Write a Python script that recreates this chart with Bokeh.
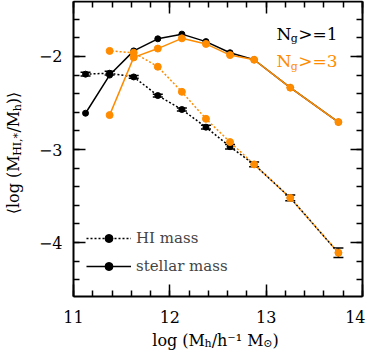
import math
from bokeh.plotting import figure
from bokeh.models import (Range1d, SingleIntervalTicker, LinearAxis, Label, Whisker,
                          ColumnDataSource, Legend, LegendItem, TeeHead, CustomJSTickFormatter)
from bokeh.embed import file_html
from bokeh.resources import INLINE

# ---------------- data ----------------
halo_mass_all = [11.125, 11.375, 11.625, 11.875, 12.125, 12.375, 12.625, 12.875, 13.25, 13.75]
hi_frac_all = [-2.19, -2.18, -2.22, -2.42, -2.57, -2.76, -2.97, -3.16, -3.52, -4.11]
hi_frac_all_err = [0.02, 0.02, 0.015, 0.015, 0.015, 0.02, 0.025, 0.025, 0.03, 0.05]
star_frac_all = [-2.61, -2.20, -1.94, -1.81, -1.76, -1.84, -1.96, -2.035, -2.335, -2.705]

halo_mass_ng3 = [11.375, 11.625, 11.875, 12.125, 12.375, 12.625, 12.875, 13.25, 13.75]
hi_frac_ng3 = [-1.94, -1.96, -2.11, -2.38, -2.67, -2.92, -3.16, -3.52, -4.11]
star_frac_ng3 = [-2.63, -2.01, -1.915, -1.805, -1.865, -1.985, -2.035, -2.335, -2.705]

y_tick_values = [-4, -3, -2]
y_tick_labels = ["\u22124", "\u22123", "\u22122"]
legend_labels = ["HI mass", "stellar mass"]
group_labels = [">=1", ">=3"]

ORANGE = "#ff8c00"
FONT = "DejaVu Serif"

# axis box limits (data)
X0, X1 = 11.0, 14.0
Y0, Y1 = -4.580, -1.409

# canvas geometry (px); the frame fills the whole canvas, axes are pinned at the box
W, H = 365, 350
BL, BR, BT, BB = 73.0, 362.0, 1.0, 296.0
SX = (BR - BL) / (X1 - X0)
SY = (BB - BT) / (Y1 - Y0)


def dx(cx):
    return X0 + (cx - BL) / SX


def dy(cy):
    return Y0 + (BB - cy) / SY


p = figure(width=W, height=H,
           x_range=Range1d(dx(0), dx(W)), y_range=Range1d(dy(H), dy(0)),
           output_backend="svg", toolbar_location=None,
           x_axis_location=None, y_axis_location=None,
           min_border=0, min_border_left=0, min_border_right=0,
           min_border_top=0, min_border_bottom=0)
p.grid.visible = False
p.outline_line_color = None
p.background_fill_color = "white"
p.border_fill_color = "white"

ax_bottom = LinearAxis(fixed_location=Y0, bounds=(X0, X1))
ax_top = LinearAxis(fixed_location=Y1, bounds=(X0, X1))
ax_left = LinearAxis(fixed_location=X0, bounds=(Y0, Y1))
ax_right = LinearAxis(fixed_location=X1, bounds=(Y0, Y1))
p.add_layout(ax_bottom, "below")
p.add_layout(ax_top, "above")
p.add_layout(ax_left, "left")
p.add_layout(ax_right, "right")

for ax in (ax_bottom, ax_top, ax_left, ax_right):
    ax.ticker = SingleIntervalTicker(interval=1, num_minor_ticks=5)
    ax.axis_line_width = 2
    ax.major_tick_in = 12
    ax.major_tick_out = 0
    ax.minor_tick_in = 6
    ax.minor_tick_out = 0
    ax.major_tick_line_width = 1.5
    ax.minor_tick_line_width = 1.5
    ax.major_label_text_font = FONT
    ax.major_label_text_font_size = "16px"
    ax.major_label_text_color = "black"

for ax in (ax_top, ax_right):
    ax.formatter = CustomJSTickFormatter(code="return ''")
    ax.major_label_standoff = 0

ax_bottom.major_label_standoff = 14
ax_left.major_label_standoff = 11
ax_left.major_label_overrides = {v: s for v, s in zip(y_tick_values, y_tick_labels)}

# ---------------- glyphs ----------------
err_src = ColumnDataSource(dict(
    x=halo_mass_all,
    upper=[v + e for v, e in zip(hi_frac_all, hi_frac_all_err)],
    lower=[v - e for v, e in zip(hi_frac_all, hi_frac_all_err)],
))
whisk = Whisker(base="x", upper="upper", lower="lower", source=err_src,
                line_color="black", line_width=1.5, level="underlay",
                upper_head=TeeHead(size=10, line_color="black", line_width=1.5),
                lower_head=TeeHead(size=10, line_color="black", line_width=1.5))
p.add_layout(whisk)

r_hi_line = p.line(halo_mass_all, hi_frac_all, line_color="black", line_width=1.5, line_dash="2 2")
r_hi_pts = p.scatter(halo_mass_all, hi_frac_all, size=6, color="black")
r_st_line = p.line(halo_mass_all, star_frac_all, line_color="black", line_width=1.5)
r_st_pts = p.scatter(halo_mass_all, star_frac_all, size=6, color="black")

p.line(halo_mass_ng3, hi_frac_ng3, line_color=ORANGE, line_width=1.5, line_dash="2 2",
       line_dash_offset=2)
p.scatter(halo_mass_ng3, hi_frac_ng3, size=7, color=ORANGE)
p.line(halo_mass_ng3, star_frac_ng3, line_color=ORANGE, line_width=1.5)
p.scatter(halo_mass_ng3, star_frac_ng3, size=7, color=ORANGE)

legend = Legend(items=[LegendItem(label=legend_labels[0], renderers=[r_hi_line, r_hi_pts]),
                       LegendItem(label=legend_labels[1], renderers=[r_st_line, r_st_pts])],
                location=(86, 74), background_fill_alpha=0, border_line_color=None,
                padding=0, margin=0, spacing=8, glyph_width=45, glyph_height=20,
                label_height=20, label_standoff=5, label_text_font=FONT,
                label_text_font_size="15px", label_text_baseline="middle")
p.add_layout(legend)

# ---------------- texts ----------------
EM = {' ': 0.318, '(': 0.390, ')': 0.390, '*': 0.5, ',': 0.318, '/': 0.337, 'H': 0.873,
      'I': 0.429, 'M': 0.995, 'N': 0.840, 'g': 0.640, 'h': 0.645, 'l': 0.320, 'o': 0.602,
      '\u207b': 0.53, '\u00b9': 0.40, '\u2299': 0.84, '\u27e8': 0.39, '\u27e9': 0.39,
      '>': 0.838, '=': 0.838, '1': 0.636, '3': 0.636}

SHIFT = 5.0  # rendered baseline sits this much below the requested anchor


def tw(s, size):
    return sum(EM.get(c, 0.6) for c in s) * size


def add_label(cx, cy, text, size, color="black", angle=0.0):
    if angle == 0.0:
        cy = cy - SHIFT
    else:
        cx = cx - SHIFT
    p.add_layout(Label(x=dx(cx), y=dy(cy), text=text, angle=angle, text_font=FONT,
                       text_font_size=f"{size}px", text_color=color,
                       text_align="left", text_baseline="alphabetic"))


# x axis title: log (M_h / h^-1 M_sun)
xpieces = [("log (M", 16, False), ("h", 11, True), ("/h\u207b\u00b9 M", 16, False),
           ("\u2299", 11, True), (")", 16, False)]
T = sum(tw(t, s) for t, s, _ in xpieces)
pos = 215.0 - T / 2
for t, s, sub in xpieces:
    add_label(pos, 348.0 if sub else 345.0, t, s)
    pos += tw(t, s)

# y axis title: <log (M_HI,* / M_h)>
ypieces = [("\u27e8log (M", 16, False), ("HI,*", 11, True), ("/M", 16, False),
           ("h", 11, True), (")\u27e9", 16, False)]
T = sum(tw(t, s) for t, s, _ in ypieces)
pos = 152.5 + T / 2
for t, s, sub in ypieces:
    add_label(22.0 if sub else 18.0, pos, t, s, angle=math.pi / 2)
    pos -= tw(t, s)

# group labels N_g>=1, N_g>=3
for base, color, tail in zip([38.0, 65.5], ["black", ORANGE], group_labels):
    xpos = 276.0
    add_label(xpos, base, "N", 17, color)
    xpos += tw("N", 17)
    add_label(xpos, base + 5.0, "g", 11, color)
    xpos += tw("g", 11) + 0.5
    add_label(xpos, base, tail, 17, color)

open("out.html", "w").write(file_html(p, INLINE))
